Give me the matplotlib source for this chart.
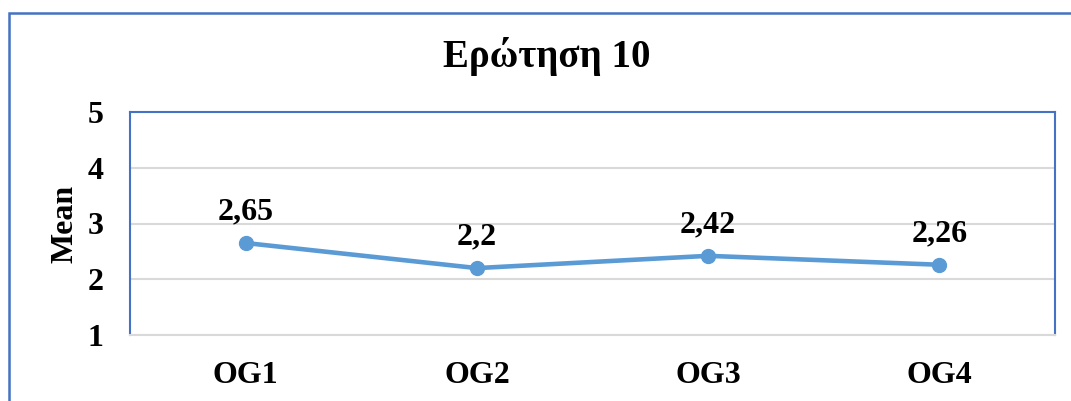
"""Line chart of mean answer per group for question 10."""

from matplotlib import pyplot
from matplotlib.patches import Rectangle

groups = ['OG1', 'OG2', 'OG3', 'OG4']
means = [2.65, 2.2, 2.42, 2.26]
labels = ['2,65', '2,2', '2,42', '2,26']

blue = '#5B9BD5'
frame = '#4472C4'
grey = '#D9D9D9'

pyplot.rc('font', family='Liberation Serif', weight='bold', size=23)
fig = pyplot.figure(figsize=(10.71, 4.01), dpi=100)
ax = fig.add_axes([130 / 1071, 66 / 401, 925 / 1071, 223 / 401])

# Outer chart frame (runs off the right and bottom edges).
fig.patches.append(Rectangle((9 / 1071, -0.2), 1.2, 0.2 + 388 / 401,
                             transform=fig.transFigure, fill=False,
                             edgecolor=frame, linewidth=1.8))

x = list(range(len(groups)))
ax.plot(x, means, color=blue, linewidth=3.3, marker='o', markersize=10)
for xi, yi, lab in zip(x, means, labels):
    ax.annotate(lab, (xi, yi), xytext=(0, 12), textcoords='offset points',
                ha='center', va='bottom', fontweight='bold')

ax.set_xlim(-0.5, 3.5)
ax.set_ylim(1, 5)
ax.set_yticks([1, 2, 3, 4, 5])
ax.set_xticks(x)
ax.set_xticklabels(groups)
ax.tick_params(length=0, pad=19)
ax.yaxis.grid(True, color=grey, linewidth=1.5)
ax.set_axisbelow(True)
for side in ['top', 'left', 'right']:
    ax.spines[side].set_color(frame)
    ax.spines[side].set_linewidth(1.5)
ax.spines['bottom'].set_color(grey)
ax.spines['bottom'].set_linewidth(1.5)

ax.set_ylabel('Mean', fontweight='bold', labelpad=6)
fig.text(547 / 1071, 1 - 57 / 401, 'Ερώτηση 10', ha='center', va='center',
         fontsize=28, fontweight='bold')

fig.savefig('out.png', dpi=100)
